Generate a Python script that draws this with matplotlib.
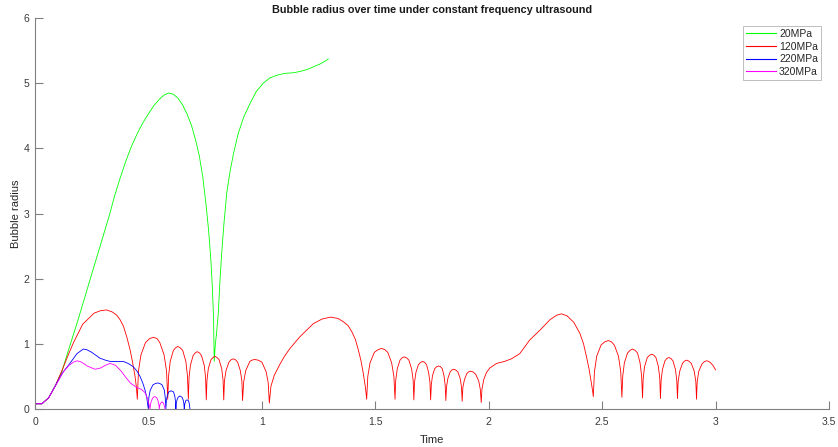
import matplotlib
matplotlib.use("Agg")
import matplotlib.pyplot as plt

plt.rcParams['font.family'] = ['Liberation Sans', 'DejaVu Sans']

# ---- data ----
labels = ["20MPa", "120MPa", "220MPa", "320MPa"]
colors = ["#00ff00", "#ff0000", "#0000ff", "#ff00ff"]

t_20 = [0, 0.03, 0.06, 0.09, 0.118, 0.15, 0.19, 0.25, 0.30, 0.33, 0.35, 0.375, 0.40,
        0.425, 0.45, 0.475, 0.50, 0.525, 0.55, 0.57, 0.59, 0.61, 0.63, 0.65, 0.67,
        0.69, 0.71, 0.725, 0.74, 0.755, 0.765, 0.775, 0.782, 0.787, 0.790,
        0.795, 0.80, 0.808, 0.815, 0.823, 0.833, 0.845, 0.86, 0.875, 0.896, 0.92,
        0.948, 0.975, 1.006, 1.035, 1.065, 1.10, 1.14, 1.168, 1.20, 1.227, 1.26, 1.293]
r_20 = [0.08, 0.08, 0.17, 0.36, 0.57, 0.93, 1.37, 2.07, 2.65, 3.0, 3.26, 3.54, 3.80,
        4.03, 4.22, 4.39, 4.53, 4.66, 4.76, 4.82, 4.85, 4.83, 4.77, 4.67, 4.53,
        4.35, 4.10, 3.87, 3.55, 3.10, 2.75, 2.30, 1.85, 1.40, 0.73,
        1.0, 1.15, 1.47, 1.95, 2.39, 2.85, 3.31, 3.65, 3.92, 4.23, 4.48,
        4.69, 4.87, 5.0, 5.08, 5.12, 5.15, 5.16, 5.18, 5.21, 5.25, 5.30, 5.37]

t_120 = [0, 0.03, 0.06, 0.09, 0.12, 0.15, 0.17, 0.21, 0.26, 0.29, 0.316, 0.34, 0.36,
         0.375, 0.39, 0.405, 0.419, 0.430, 0.441, 0.447, 0.451,
         0.456, 0.467, 0.487, 0.505, 0.522, 0.538, 0.55, 0.569, 0.580, 0.585,
         0.589, 0.596, 0.610, 0.620, 0.629, 0.640, 0.651, 0.665, 0.672, 0.676,
         0.679, 0.685, 0.697, 0.706, 0.715, 0.725, 0.734, 0.746, 0.752, 0.755,
         0.758, 0.764, 0.776, 0.785, 0.793, 0.802, 0.811, 0.823, 0.829, 0.832,
         0.835, 0.842, 0.855, 0.864, 0.874, 0.884, 0.893, 0.905, 0.912, 0.915,
         0.920, 0.929, 0.947, 0.957, 0.968, 0.983, 1.000, 1.019, 1.028, 1.033,
         1.040, 1.055, 1.080, 1.10, 1.124, 1.168, 1.227, 1.265, 1.303, 1.335, 1.359,
         1.380, 1.396, 1.412, 1.425, 1.437, 1.447, 1.457, 1.462,
         1.467, 1.477, 1.496, 1.512, 1.528, 1.542, 1.555, 1.572, 1.582, 1.587,
         1.590, 1.597, 1.609, 1.618, 1.628, 1.638, 1.648, 1.660, 1.667, 1.670,
         1.673, 1.679, 1.690, 1.700, 1.709, 1.718, 1.726, 1.735, 1.741, 1.744,
         1.747, 1.752, 1.762, 1.771, 1.779, 1.787, 1.795, 1.803, 1.808, 1.811,
         1.814, 1.820, 1.830, 1.838, 1.845, 1.854, 1.864, 1.874, 1.880, 1.883,
         1.886, 1.893, 1.903, 1.911, 1.919, 1.931, 1.943, 1.956, 1.963, 1.967,
         1.970, 1.978, 1.990, 2.005, 2.035, 2.07, 2.10, 2.137, 2.181, 2.226, 2.270,
         2.30, 2.321, 2.345, 2.375, 2.402, 2.418, 2.431, 2.442, 2.450, 2.458, 2.461,
         2.466, 2.476, 2.495, 2.511, 2.527, 2.541, 2.554, 2.572, 2.582, 2.587,
         2.591, 2.598, 2.612, 2.623, 2.634, 2.645, 2.656, 2.667, 2.674, 2.678,
         2.681, 2.687, 2.699, 2.709, 2.719, 2.728, 2.737, 2.748, 2.754, 2.757,
         2.760, 2.766, 2.777, 2.785, 2.794, 2.803, 2.812, 2.823, 2.829, 2.832,
         2.835, 2.842, 2.854, 2.863, 2.872, 2.882, 2.893, 2.906, 2.913, 2.916,
         2.919, 2.926, 2.940, 2.950, 2.960, 2.970, 2.978, 2.990, 3.0]
r_120 = [0.08, 0.08, 0.17, 0.36, 0.6, 0.86, 1.02, 1.3, 1.47, 1.51, 1.52, 1.49, 1.44,
         1.37, 1.27, 1.10, 0.91, 0.72, 0.50, 0.33, 0.15,
         0.58, 0.83, 1.02, 1.08, 1.10, 1.08, 1.02, 0.83, 0.58, 0.15,
         0.51, 0.73, 0.90, 0.94, 0.96, 0.94, 0.90, 0.73, 0.51, 0.15,
         0.48, 0.67, 0.82, 0.86, 0.88, 0.86, 0.82, 0.67, 0.48, 0.14,
         0.44, 0.62, 0.76, 0.79, 0.81, 0.79, 0.76, 0.62, 0.44, 0.14,
         0.43, 0.59, 0.72, 0.755, 0.77, 0.755, 0.72, 0.59, 0.43, 0.13,
         0.42, 0.59, 0.73, 0.75, 0.76, 0.75, 0.72, 0.57, 0.40, 0.09,
         0.35, 0.52, 0.69, 0.81, 0.93, 1.11, 1.31, 1.38, 1.41, 1.39, 1.34,
         1.28, 1.19, 1.07, 0.91, 0.74, 0.55, 0.32, 0.15,
         0.50, 0.71, 0.87, 0.91, 0.93, 0.91, 0.87, 0.71, 0.50, 0.15,
         0.44, 0.62, 0.75, 0.785, 0.80, 0.785, 0.75, 0.62, 0.44, 0.14,
         0.41, 0.56, 0.68, 0.715, 0.73, 0.715, 0.68, 0.56, 0.41, 0.14,
         0.37, 0.51, 0.62, 0.65, 0.66, 0.65, 0.62, 0.51, 0.37, 0.13,
         0.34, 0.47, 0.57, 0.60, 0.61, 0.60, 0.57, 0.47, 0.34, 0.12,
         0.33, 0.45, 0.54, 0.57, 0.58, 0.57, 0.53, 0.43, 0.30, 0.10,
         0.30, 0.45, 0.56, 0.63, 0.70, 0.73, 0.77, 0.85, 1.06, 1.21, 1.37,
         1.44, 1.46, 1.43, 1.33, 1.16, 1.00, 0.80, 0.62, 0.45, 0.28, 0.19,
         0.57, 0.81, 0.98, 1.03, 1.05, 1.03, 0.98, 0.81, 0.57, 0.18,
         0.51, 0.71, 0.86, 0.90, 0.92, 0.90, 0.86, 0.71, 0.51, 0.17,
         0.47, 0.65, 0.79, 0.825, 0.84, 0.825, 0.79, 0.65, 0.47, 0.16,
         0.44, 0.61, 0.74, 0.775, 0.79, 0.775, 0.74, 0.61, 0.44, 0.16,
         0.42, 0.58, 0.70, 0.735, 0.75, 0.735, 0.70, 0.58, 0.42, 0.15,
         0.42, 0.58, 0.69, 0.725, 0.74, 0.73, 0.71, 0.66, 0.60]

t_220 = [0, 0.03, 0.06, 0.09, 0.12, 0.154, 0.185, 0.213, 0.228, 0.25, 0.286, 0.31,
         0.331, 0.36, 0.389, 0.41, 0.433, 0.45, 0.463, 0.475, 0.485, 0.493, 0.499,
         0.502, 0.508, 0.520, 0.530, 0.541, 0.551, 0.560, 0.570, 0.574, 0.577,
         0.579, 0.583, 0.589, 0.600, 0.611, 0.616, 0.619, 0.621,
         0.623, 0.626, 0.631, 0.639, 0.648, 0.653, 0.656, 0.658,
         0.660, 0.662, 0.665, 0.670, 0.676, 0.679, 0.681, 0.683]
r_220 = [0.08, 0.08, 0.17, 0.36, 0.55, 0.70, 0.85, 0.92, 0.91, 0.87, 0.78, 0.75,
         0.73, 0.73, 0.73, 0.70, 0.65, 0.58, 0.50, 0.40, 0.29, 0.17, 0.01,
         0.18, 0.29, 0.37, 0.39, 0.40, 0.39, 0.37, 0.29, 0.18, 0.0,
         0.13, 0.20, 0.26, 0.28, 0.26, 0.20, 0.13, 0.0,
         0.09, 0.14, 0.18, 0.20, 0.18, 0.14, 0.09, 0.0,
         0.07, 0.10, 0.13, 0.14, 0.13, 0.10, 0.06, 0.0]

t_320 = [0, 0.03, 0.06, 0.096, 0.125, 0.15, 0.17, 0.186, 0.205, 0.23, 0.264, 0.29,
         0.31, 0.331, 0.355, 0.38, 0.397, 0.42, 0.448, 0.47, 0.485, 0.495, 0.502,
         0.507, 0.510, 0.515, 0.521, 0.529, 0.537, 0.543, 0.546, 0.548,
         0.550, 0.554, 0.560, 0.566, 0.570, 0.573]
r_320 = [0.08, 0.08, 0.17, 0.39, 0.57, 0.67, 0.72, 0.74, 0.72, 0.66, 0.61, 0.63,
         0.67, 0.70, 0.67, 0.58, 0.50, 0.40, 0.33, 0.30, 0.25, 0.17, 0.08,
         0.0, 0.09, 0.14, 0.18, 0.19, 0.17, 0.12, 0.07, 0.0,
         0.06, 0.09, 0.11, 0.09, 0.05, 0.0]

x_ticks = [0, 0.5, 1, 1.5, 2, 2.5, 3, 3.5]
x_tick_labels = ["0", "0.5", "1", "1.5", "2", "2.5", "3", "3.5"]
y_ticks = [0, 1, 2, 3, 4, 5, 6]
y_tick_labels = ["0", "1", "2", "3", "4", "5", "6"]

# ---- figure ----
fig = plt.figure(figsize=(8.38, 4.47), dpi=100)
ax = fig.add_axes([35 / 838, 38 / 447, 794 / 838, 391 / 447])

series = [(t_20, r_20), (t_120, r_120), (t_220, r_220), (t_320, r_320)]
for (t, r), c, lab in zip(series, colors, labels):
    ax.plot(t, r, color=c, lw=0.6, label=lab)

ax.set_xlim(0, 3.5)
ax.set_ylim(0, 6)
ax.set_xticks(x_ticks)
ax.set_xticklabels(x_tick_labels)
ax.set_yticks(y_ticks)
ax.set_yticklabels(y_tick_labels)

axis_col = "#808080"
for s in ["top", "right"]:
    ax.spines[s].set_visible(False)
for s in ["left", "bottom"]:
    ax.spines[s].set_color(axis_col)
    ax.spines[s].set_linewidth(0.8)
ax.tick_params(direction="in", length=5.5, width=0.8, color=axis_col,
               labelsize=7.5, labelcolor="#3a3a3a")
ax.tick_params(axis="x", pad=5.5)
ax.tick_params(axis="y", pad=4)

ax.set_xlabel("Time", fontsize=8, color="#262626", labelpad=6)
ax.set_ylabel("Bubble radius", fontsize=8, color="#262626", labelpad=1.5)
ax.set_title("Bubble radius over time under constant frequency ultrasound",
             fontsize=7.8, fontweight="bold", color="#1a1a1a", pad=3.5)

leg = ax.legend(loc="upper right", bbox_to_anchor=(0.990, 0.980), borderaxespad=0,
                fontsize=7.5, frameon=True, fancybox=False, handlelength=2.9,
                handletextpad=0.3, labelspacing=0.25, borderpad=0.3)
leg.get_frame().set_edgecolor("#a0a0a0")
leg.get_frame().set_linewidth(0.6)
for line in leg.get_lines():
    line.set_linewidth(0.8)
for txt in leg.get_texts():
    txt.set_color("#262626")

fig.savefig("out.png", dpi=100)
